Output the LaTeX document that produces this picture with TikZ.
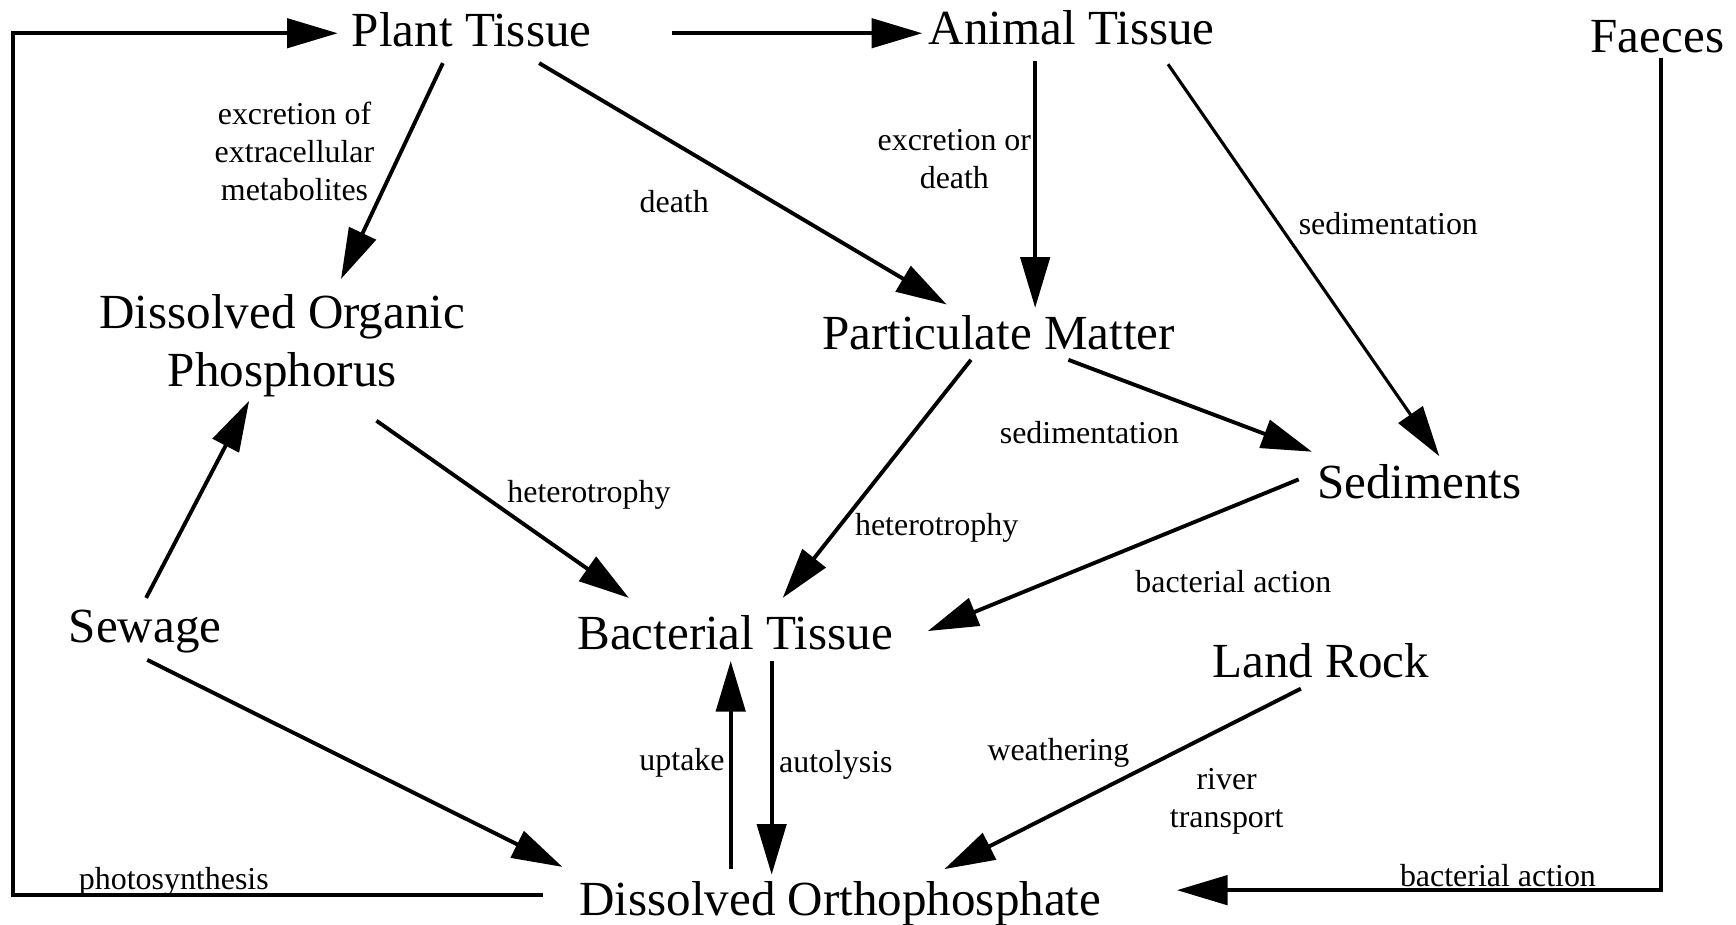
\documentclass[tikz,border=0pt]{standalone}
\usepackage{fontspec}
\setmainfont{Liberation Serif}
\usetikzlibrary{arrows.meta,calc}
\tikzset{
  big/.style={font=\fontsize{12.6}{14.8}\selectfont, inner sep=0pt, anchor=base},
  lab/.style={font=\fontsize{8.2}{9.8}\selectfont, inner sep=0pt, align=center},
  arr/.style={line width=1pt, -{Triangle[length=13pt,width=7.5pt]}},
}
\begin{document}
\begin{tikzpicture}[x=0.01cm,y=-0.01cm]
\useasboundingbox (0,0) rectangle (1568,835);
% nodes
\node[big] (pt) at (426,42) {Plant Tissue};
\node[big] (at) at (968,40) {Animal Tissue};
\node[big] (fa) at (1497,47) {Faeces};
\node[big, anchor=center, align=center] (dop) at (255,312) {Dissolved Organic\\Phosphorus};
\node[big] (pm) at (902,316) {Particulate Matter};
\node[big] (sed) at (1282,450) {Sediments};
\node[big] (sew) at (131,580) {Sewage};
\node[big] (bt) at (664,587) {Bacterial Tissue};
\node[big] (lr) at (1193,612) {Land Rock};
\node[big] (do) at (759,827) {Dissolved Orthophosphate};
\coordinate (lc) at (12,30);
% connectors
\draw[arr] ($(do.base)+(-269,-19)$) -| (lc) -- ($(pt.base)+(-121,-12)$);
\draw[arr] ($(pt.base)+(181,-12)$) -- ($(at.base)+(-135,-10)$);
\draw[arr] ($(pt.base)+(-26,15)$) -- ($(dop.center)+(53,-60)$);
\draw[arr] ($(pt.base)+(61,15)$) -- ($(pm.base)+(-47,-41)$);
\draw[arr] ($(at.base)+(-33,15)$) -- ($(pm.base)+(33,-38)$);
\draw[arr, line width=0.8pt] ($(at.base)+(87,18)$) -- ($(sed.base)+(18,-38)$);
\draw[arr] ($(pm.base)+(-25,9)$) -- ($(bt.base)+(43,-47)$);
\draw[arr] ($(pm.base)+(63,9)$) -- ($(sed.base)+(-97,-42)$);
\draw[arr] ($(dop.center)+(85,68)$) -- ($(bt.base)+(-96,-47)$);
\draw[arr] ($(sew.base)+(1,-40)$) -- ($(dop.center)+(-30,50)$);
\draw[arr] ($(sed.base)+(-109,-17)$) -- ($(bt.base)+(174,-17)$);
\draw[arr] ($(sew.base)+(2,16)$) -- ($(do.base)+(-251,-44)$);
\draw[arr] ($(bt.base)+(33,10)$) -- ($(do.base)+(-62,-37)$);
\draw[arr] ($(do.base)+(-99,-42)$) -- ($(bt.base)+(-4,10)$);
\draw[arr] ($(lr.base)+(-18,10)$) -- ($(do.base)+(94,-42)$);
\draw[arr] ($(fa.base)+(3,5)$) |- ($(do.base)+(304,-23)$);
% labels
\node[lab] (l1) at (266,137) {excretion of\\extracellular\\metabolites};
\node[lab] (l2) at (609,182) {death};
\node[lab] (l3) at (862,144) {excretion or\\death};
\node[lab] (l4) at (1254,202) {sedimentation};
\node[lab] (l5) at (984,391) {sedimentation};
\node[lab] (l6) at (532,447) {heterotrophy};
\node[lab] (l7) at (846,477) {heterotrophy};
\node[lab] (l8) at (1114,525) {bacterial action};
\node[lab] (l9) at (616,689) {uptake};
\node[lab] (l10) at (755,691) {autolysis};
\node[lab] (l11) at (956,680) {weathering};
\node[lab] (l12) at (1108,724) {river\\transport};
\node[lab, anchor=base] (l13) at (157,803) {photosynthesis};
\node[lab, anchor=base] (l14) at (1353,801) {bacterial action};
\end{tikzpicture}
\end{document}
